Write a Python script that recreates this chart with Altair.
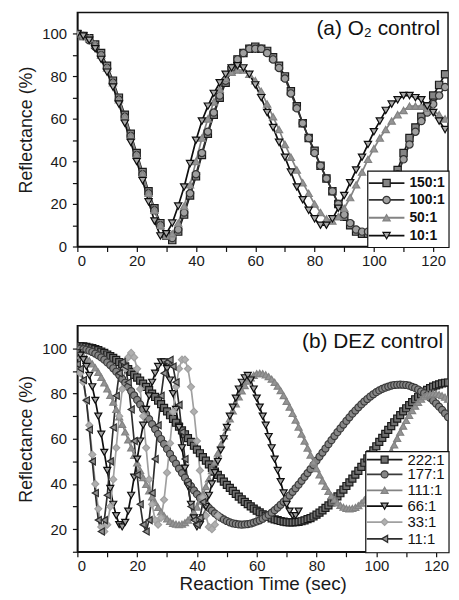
import altair as alt
import pandas as pd

FONT = "Liberation Sans"

# ---------------- Panel (a): O2 control ----------------
a_time = list(range(0, 125, 2))
a_labels = ["150:1", "100:1", "50:1", "10:1"]
a_150 = [100, 99, 98, 95, 91, 85, 78, 70, 62, 53, 44, 35, 26, 18, 11, 5, 3, 7, 15, 24,
         33, 43, 53, 62, 70, 77, 83, 88, 91, 93, 94, 93, 92, 89, 85, 80, 73, 66, 58, 51,
         45, 38, 32, 26, 20, 14, 10, 7, 6, 6, 7, 10, 16, 26, 36, 44, 51, 56, 61, 66,
         71, 76, 81]
a_100 = [100, 99, 97, 94, 90, 84, 77, 69, 61, 52, 43, 34, 25, 17, 10, 5, 4, 8, 16, 25,
         34, 44, 54, 63, 71, 78, 84, 88, 91, 93, 93, 93, 91, 88, 84, 79, 72, 65, 58, 51,
         44, 38, 32, 26, 20, 15, 11, 8, 7, 7, 9, 12, 18, 26, 34, 41, 48, 54, 59, 63,
         67, 71, 75]
a_50 = [100, 99, 98, 95, 90, 84, 77, 69, 61, 52, 43, 34, 25, 17, 10, 5, 6, 11, 19, 29,
        40, 51, 60, 68, 74, 79, 82, 83, 83, 81, 78, 73, 67, 61, 55, 48, 42, 36, 30, 25,
        20, 16, 13, 12, 14, 18, 23, 29, 35, 41, 46, 51, 55, 59, 62, 64, 66, 66, 66, 65,
        64, 62, 60]
a_10 = [100, 99, 97, 93, 88, 82, 75, 67, 58, 49, 40, 31, 21, 12, 5, 6, 11, 19, 28, 39,
        50, 59, 66, 72, 77, 81, 84, 85, 84, 81, 76, 70, 63, 56, 49, 42, 35, 28, 22, 17,
        13, 10, 10, 13, 18, 24, 30, 36, 42, 48, 54, 59, 64, 67, 69, 71, 71, 70, 69, 66,
        63, 59, 55]
a_series = [a_150, a_100, a_50, a_10]
a_shapes = ["square", "circle", "triangle-up", "triangle-down"]
a_fills = ["#858585", "#a0a0a0", "#959595", "#aaaaaa"]
a_strokes = ["#1a1a1a", "#333333", "#838383", "#0e0e0e"]

# ---------------- Panel (b): DEZ control ----------------
b_labels = ["222:1", "177:1", "111:1", "66:1", "33:1", "11:1"]
b_222 = [101.0, 101.0, 100.9, 100.7, 100.4, 100.1, 99.7, 99.2, 98.6, 98.0,
         97.3, 96.6, 95.8, 94.9, 93.9, 92.9, 91.9, 90.8, 89.6, 88.3,
         87.1, 85.7, 84.4, 83.0, 81.5, 80.0, 78.5, 76.9, 75.3, 73.7,
         72.1, 70.4, 68.8, 67.1, 65.4, 63.7, 62.0, 60.3, 58.6, 56.9,
         55.2, 53.6, 51.9, 50.3, 48.7, 47.1, 45.5, 44.0, 42.5, 41.0,
         39.6, 38.3, 36.9, 35.6, 34.4, 33.2, 32.1, 31.1, 30.1, 29.1,
         28.2, 27.4, 26.6, 26.0, 25.4, 24.8, 24.3, 24.0, 23.6, 23.3,
         23.1, 23.0, 23.0, 23.1, 23.2, 23.5, 23.9, 24.4, 24.9, 25.6,
         26.4, 27.3, 28.3, 29.4, 30.5, 31.8, 33.1, 34.5, 35.9, 37.5,
         39.1, 40.7, 42.4, 44.1, 45.8, 47.6, 49.4, 51.3, 53.1, 54.9,
         56.7, 58.6, 60.4, 62.2, 63.9, 65.6, 67.3, 68.9, 70.5, 72.1,
         73.5, 74.9, 76.2, 77.5, 78.6, 79.7, 80.7, 81.6, 82.4, 83.1,
         83.6, 84.1, 84.5, 84.8, 84.9]
b_177 = [100.0, 99.9, 99.7, 99.4, 99.0, 98.4, 97.7, 96.9, 96.0, 95.0,
         93.8, 92.6, 91.2, 89.7, 88.2, 86.5, 84.8, 83.0, 81.1, 79.2,
         77.2, 75.2, 73.1, 70.9, 68.7, 66.5, 64.3, 62.1, 59.9, 57.7,
         55.5, 53.3, 51.1, 49.0, 46.8, 44.8, 42.8, 40.9, 39.0, 37.2,
         35.5, 33.8, 32.3, 30.8, 29.4, 28.2, 27.0, 26.0, 25.1, 24.3,
         23.6, 23.0, 22.6, 22.3, 22.1, 22.0, 22.1, 22.2, 22.5, 22.9,
         23.4, 23.9, 24.6, 25.4, 26.3, 27.3, 28.4, 29.5, 30.8, 32.1,
         33.5, 34.9, 36.5, 38.1, 39.7, 41.4, 43.1, 44.8, 46.6, 48.4,
         50.3, 52.1, 53.9, 55.7, 57.6, 59.4, 61.2, 62.9, 64.6, 66.3,
         67.9, 69.5, 71.1, 72.5, 73.9, 75.2, 76.5, 77.6, 78.7, 79.7,
         80.6, 81.4, 82.1, 82.6, 83.1, 83.5, 83.8, 83.9, 84.0, 83.9,
         83.8, 83.5, 83.0, 82.5, 81.8, 81.0, 80.2, 79.2, 78.1, 76.9,
         75.6, 74.2, 72.8, 71.2, 69.6]
b_111 = [97.0, 96.8, 96.4, 95.6, 94.5, 93.1, 91.4, 89.4, 87.2, 84.7,
         82.1, 79.2, 76.2, 73.0, 69.7, 66.4, 63.0, 59.5, 56.0, 52.6,
         49.3, 46.0, 42.8, 39.8, 36.9, 34.3, 31.8, 29.6, 27.6, 25.9,
         24.5, 23.4, 22.6, 22.2, 22.0, 22.2, 22.9, 24.0, 25.5, 27.5,
         29.8, 32.5, 35.5, 38.8, 42.2, 45.9, 49.7, 53.6, 57.4, 61.3,
         65.1, 68.8, 72.3, 75.5, 78.5, 81.2, 83.5, 85.5, 87.0, 88.1,
         88.8, 89.0, 88.8, 88.3, 87.5, 86.4, 85.0, 83.3, 81.3, 79.1,
         76.6, 74.0, 71.2, 68.3, 65.2, 62.1, 59.0, 55.9, 52.8, 49.7,
         46.8, 44.0, 41.4, 38.9, 36.7, 34.7, 33.0, 31.6, 30.5, 29.7,
         29.2, 29.0, 29.2, 29.6, 30.4, 31.5, 32.9, 34.6, 36.5, 38.6,
         40.9, 43.4, 46.1, 48.8, 51.7, 54.5, 57.3, 60.2, 62.9, 65.6,
         68.1, 70.4, 72.5, 74.4, 76.1, 77.5, 78.6, 79.4, 79.8, 80.0,
         79.9, 79.6, 79.1, 78.4, 77.5]
b_66 = [98, 97, 95, 92, 88, 83, 77, 70, 62, 54,
        46, 38, 31, 26, 22, 21, 23, 28, 35, 43,
        51, 59, 66, 73, 79, 85, 89, 92, 94, 94,
        91, 86, 80, 73, 65, 56, 47, 39, 31, 25,
        21, 22, 25, 30, 35, 40, 45, 50, 55, 60,
        65, 70, 74, 78, 82, 85, 87, 88, 86, 82,
        78, 74, 70, 66, 61, 56, 51, 46, 41, 36,
        31, 28, 26, 26, 28]
b_33 = [90, 89, 85, 77, 66, 53, 40, 29, 21, 19,
        22, 30, 42, 56, 70, 82, 91, 96, 98, 96,
        91, 82, 70, 56, 42, 31, 24, 22, 25, 33,
        45, 58, 72, 83, 91, 95, 95, 91, 83, 72,
        59, 46, 34, 26, 21, 20, 22, 26]
b_11 = [93, 91, 86, 77, 64, 50, 36, 24, 19, 24,
        35, 50, 65, 79, 89, 94, 92, 85, 73, 59,
        44, 31, 22, 19, 24, 36, 51, 66, 79, 89,
        94, 95, 92, 85, 75, 63, 51, 40, 30, 24,
        22, 25, 32]
b_series = [b_222, b_177, b_111, b_66, b_33, b_11]
b_shapes = ["square", "circle", "triangle-up", "triangle-down", "diamond", "triangle-left"]
b_fills = ["#707070", "#858585", "#949494", "#a0a0a0", "#b0b0b0", "#929292"]
b_strokes = ["#1a1a1a", "#3a3a3a", "#838383", "#0e0e0e", "#a0a0a0", "#2e2e2e"]


def long_table(labels, series, step):
    rows = []
    for lab, vals in zip(labels, series):
        for i, v in enumerate(vals):
            rows.append({"series": lab, "t": i * step, "r": v})
    return pd.DataFrame(rows)


def panel(df, labels, shapes, fills, strokes, W, H, xmax, ymin, ymax, ylabel_vals,
          x_title, title_text, title_dx, title_base, leg_rows, box_top, leg_left,
          leg_bold, leg_size, size):
    x_axis_kw = dict(values=list(range(0, 121, 10)),
                     labelExpr="datum.value % 20 == 0 ? datum.label : ''",
                     tickSize=5, labelPadding=2, grid=False)
    if x_title:
        xax = alt.Axis(title=x_title, titleFontSize=19, titlePadding=1, **x_axis_kw)
    else:
        xax = alt.Axis(title=None, **x_axis_kw)
    yax = alt.Axis(title="Reflectance (%)", values=ylabel_vals,
                   labelExpr="datum.value % 20 == 0 ? datum.label : ''",
                   tickSize=5, labelPadding=6, titlePadding=6, grid=False)
    base = alt.Chart(df).encode(
        x=alt.X("t:Q", scale=alt.Scale(domain=[0, xmax], nice=False, zero=False), axis=xax),
        y=alt.Y("r:Q", scale=alt.Scale(domain=[ymin, ymax], nice=False, zero=False), axis=yax),
    )
    stroke_scale = alt.Scale(domain=labels, range=strokes)
    lines = base.mark_line(strokeWidth=1.7, clip=True).encode(
        stroke=alt.Stroke("series:N", scale=stroke_scale, legend=None)
    )
    points = base.mark_point(filled=True, size=size, strokeWidth=1.2, opacity=1, clip=True).encode(
        shape=alt.Shape("series:N", scale=alt.Scale(domain=labels, range=shapes), legend=None),
        fill=alt.Fill("series:N", scale=alt.Scale(domain=labels, range=fills), legend=None),
        stroke=alt.Stroke("series:N", scale=stroke_scale, legend=None),
    )
    one = pd.DataFrame({"k": [0]})
    box = alt.Chart(one).mark_rect(fill="white", stroke="#111", strokeWidth=1.2).encode(
        x=alt.value(W + leg_left), x2=alt.value(W + 1),
        y=alt.value(H - box_top), y2=alt.value(H + 1),
    )
    layers = [lines, points, box]
    for i, lab in enumerate(labels):
        d = pd.DataFrame({"label": [lab]})
        yv = H - leg_rows[i]
        layers.append(alt.Chart(d).mark_rule(color=strokes[i], strokeWidth=1.8).encode(
            x=alt.value(W + leg_left + 1), x2=alt.value(W + leg_left + 37), y=alt.value(yv)))
        layers.append(alt.Chart(d).mark_point(filled=True, shape=shapes[i], size=size,
                                              fill=fills[i], stroke=strokes[i],
                                              strokeWidth=1.2, opacity=1).encode(
            x=alt.value(W + leg_left + 19), y=alt.value(yv)))
        layers.append(alt.Chart(d).mark_text(align="left", baseline="middle", font=FONT,
                                             fontSize=leg_size,
                                             fontWeight="bold" if leg_bold else "normal",
                                             color="#111", clip=True).encode(
            x=alt.value(W + leg_left + 42), y=alt.value(yv), text="label:N"))
    tdf = pd.DataFrame({"label": [title_text]})
    layers.append(alt.Chart(tdf).mark_text(align="right", baseline="alphabetic", font=FONT,
                                           fontSize=21, color="#111").encode(
        x=alt.value(W - title_dx), y=alt.value(title_base), text="label:N"))
    return alt.layer(*layers).properties(width=W, height=H)


W = 374
dfa = long_table(a_labels, a_series, 2)
dfb = long_table(b_labels, b_series, 1)

top = panel(dfa, a_labels, a_shapes, a_fills, a_strokes, W, 236, 125, 0, 110,
            list(range(0, 101, 10)), None, "(a) O\u2082 control", 8, 23,
            [64, 47, 29, 11], 76, -81, True, 14, 54)
bottom = panel(dfb, b_labels, b_shapes, b_fills, b_strokes, W, 228, 124, 10, 110,
               list(range(10, 101, 10)), "Reaction Time (sec)", "(b) DEZ control", 5, 22,
               [93, 78, 62, 46, 30, 13], 101, -83, False, 15, 50)

chart = alt.vconcat(top, bottom, spacing=56).resolve_scale(
    shape="independent", fill="independent", stroke="independent"
).properties(
    padding={"left": 9, "top": 1, "right": 0, "bottom": 0}
).configure_view(stroke="#111", strokeWidth=1.5).configure_axis(
    labelFont=FONT, titleFont=FONT, labelFontSize=15, titleFontSize=18,
    labelColor="#1a1a1a", titleColor="#1a1a1a", domainColor="#111", tickColor="#111",
    domainWidth=1.5, tickWidth=1.2, titleFontWeight="normal"
)

chart.save("out.html", embed_options={"renderer": "svg", "actions": False})
